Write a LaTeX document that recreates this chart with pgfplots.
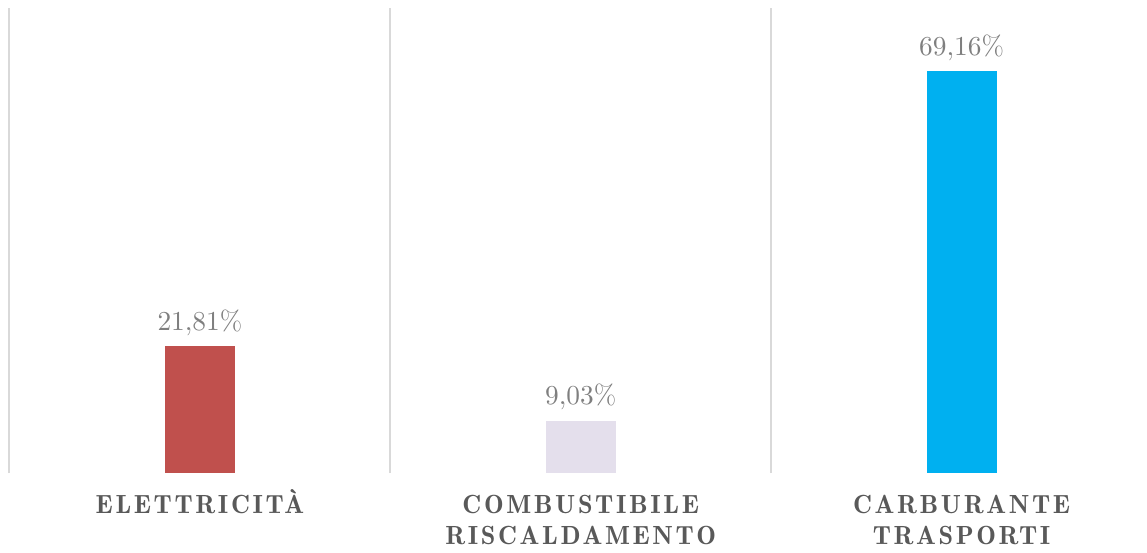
\documentclass[border=0pt]{standalone}
\usepackage{fontspec}
\usepackage{pgfplots}
\pgfplotsset{compat=1.18}
\newfontfamily\capsfont[LetterSpace=10]{lmromandemi10-regular.otf}
\definecolor{barred}{HTML}{C0504D}
\definecolor{barlav}{HTML}{E4DFEC}
\definecolor{barblue}{HTML}{00B0F0}
\definecolor{sepgray}{HTML}{D9D9D9}
\definecolor{lblgray}{HTML}{595959}
\definecolor{valgray}{HTML}{7F7F7F}
\newcommand{\tstrut}{\rule{0pt}{10pt}}
\begin{document}
\begin{tikzpicture}
\useasboundingbox (-3.8pt,-31.6pt) rectangle (455pt,189.2pt);
\begin{axis}[
  at={(0,0)}, anchor=south west,
  scale only axis,
  width=457pt, height=186pt,
  xmin=-0.5, xmax=2.5,
  ymin=0, ymax=80,
  clip=false,
  axis line style={draw=none},
  ytick=\empty,
  xtick={0,1,2},
  xticklabels={\tstrut ELETTRICITÀ,{\tstrut COMBUSTIBILE\\RISCALDAMENTO},{\tstrut CARBURANTE\\TRASPORTI}},
  minor xtick={-0.5,0.5,1.5,2.5},
  xminorgrids,
  minor grid style={draw=sepgray, line width=0.8pt},
  major tick length=0pt, minor tick length=0pt,
  xticklabel style={align=center, anchor=north, inner sep=0pt, yshift=-6pt,
    text=lblgray, font=\fontsize{10.5}{12.4}\selectfont\capsfont},
  ybar, bar width=28pt, bar shift=0pt,
  nodes near coords={\pgfmathprintnumber[fixed, fixed zerofill, precision=2, use comma]{\pgfplotspointmeta}\%},
  nodes near coords style={anchor=base, inner sep=0pt, yshift=6.4pt, text=valgray, font=\fontsize{11}{13}\selectfont},
]
\addplot[draw=none, fill=barred, bar shift=0pt] coordinates {(0,21.81)};
\addplot[draw=none, fill=barlav, bar shift=0pt] coordinates {(1,9.03)};
\addplot[draw=none, fill=barblue, bar shift=0pt] coordinates {(2,69.16)};
\end{axis}
\end{tikzpicture}
\end{document}
